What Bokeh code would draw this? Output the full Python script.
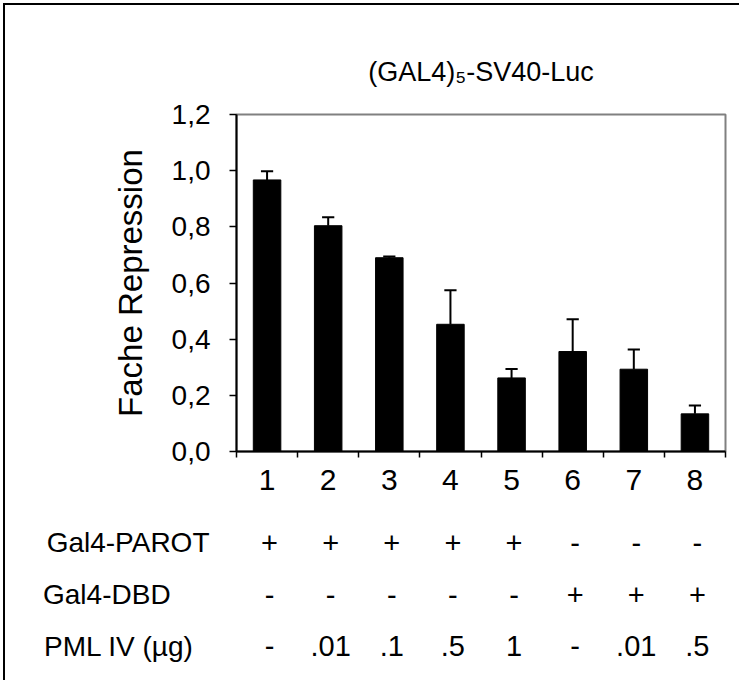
from bokeh.plotting import figure
from bokeh.models import (Range1d, FixedTicker, CustomJSTickFormatter, Title,
                          ColumnDataSource, Div, Spacer)
from bokeh.layouts import column, row
from bokeh.embed import file_html
from bokeh.resources import INLINE
from bokeh.core.properties import value

# ---------------- data ----------------
lanes = [1, 2, 3, 4, 5, 6, 7, 8]
repression = [0.967, 0.804, 0.690, 0.453, 0.262, 0.356, 0.293, 0.134]
error = [0.031, 0.030, 0.004, 0.121, 0.032, 0.115, 0.070, 0.030]
y_ticks = [0.0, 0.2, 0.4, 0.6, 0.8, 1.0, 1.2]
lane_boundaries = [0.5, 1.5, 2.5, 3.5, 4.5, 5.5, 6.5, 7.5, 8.5]

title_text = "(GAL4)\u2085-SV40-Luc"
y_label = "Fache Repression"

row_names = ["Gal4-PAROT", "Gal4-DBD", "PML IV (\u00b5g)"]
row_index = [0, 1, 2]
gal4_parot = ["+", "+", "+", "+", "+", "-", "-", "-"]
gal4_dbd = ["-", "-", "-", "-", "-", "+", "+", "+"]
pml_iv = ["-", ".01", ".1", ".5", "1", "-", ".01", ".5"]

FONT = "Liberation Sans"
FW, FH_TOP, FH_TAB = 734, 517, 158
BL, BR = 231, 14

# ---------------- chart ----------------
x_range = Range1d(0.5, 8.5)
p = figure(width=FW, height=FH_TOP, x_range=x_range, y_range=Range1d(0, 1.2),
           output_backend="svg", toolbar_location=None,
           min_border_left=BL, min_border_right=BR, min_border_top=109, min_border_bottom=71)
p.background_fill_color = "white"
p.border_fill_color = "white"
p.grid.visible = False
p.outline_line_color = "#808080"
p.outline_line_width = 2

err_top = [r + e for r, e in zip(repression, error)]
cap_half = 0.1
src = ColumnDataSource(dict(
    x=lanes, top=repression, etop=err_top,
    cx0=[x - cap_half for x in lanes], cx1=[x + cap_half for x in lanes]))

p.vbar(x="x", top="top", width=0.45, bottom=0, source=src,
       fill_color="black", line_color="black")
p.segment(x0="x", y0="top", x1="x", y1="etop", source=src, line_color="black", line_width=2)
p.segment(x0="cx0", y0="etop", x1="cx1", y1="etop", source=src, line_color="black", line_width=2)

xa = p.xaxis[0]
xa.ticker = FixedTicker(ticks=lanes, minor_ticks=lane_boundaries)
xa.major_tick_out = 0
xa.major_tick_in = 0
xa.minor_tick_out = 6
xa.minor_tick_in = 0
xa.minor_tick_line_width = 1.5
xa.minor_tick_line_color = "black"
xa.axis_line_width = 2
xa.axis_line_color = "black"
xa.major_label_text_font = FONT
xa.major_label_text_font_size = "30px"
xa.major_label_text_color = "black"
xa.major_label_standoff = 12

ya = p.yaxis[0]
ya.ticker = FixedTicker(ticks=y_ticks)
ya.formatter = CustomJSTickFormatter(code="return tick.toFixed(1).replace('.', ',');")
ya.major_tick_out = 7
ya.major_tick_in = 0
ya.minor_tick_out = 0
ya.minor_tick_in = 0
ya.major_tick_line_width = 1.5
ya.axis_line_width = 2
ya.axis_line_color = "black"
ya.major_label_text_font = FONT
ya.major_label_text_font_size = "28px"
ya.major_label_text_color = "black"
ya.major_label_text_baseline = "top"
ya.major_label_standoff = 19
ya.axis_label = y_label
ya.axis_label_text_font = FONT
ya.axis_label_text_font_size = "33px"
ya.axis_label_text_font_style = "normal"
ya.axis_label_text_color = "black"
ya.axis_label_standoff = 20

p.title = Title(text=title_text, align="center", text_font=FONT, text_font_size="27px",
                text_font_style="normal", text_color="black", standoff=55, offset=-20)

# ---------------- condition table ----------------
t = figure(width=FW, height=FH_TAB, x_range=x_range, y_range=Range1d(2.654, -0.385),
           output_backend="svg", toolbar_location=None,
           min_border_left=BL, min_border_right=BR, min_border_top=0, min_border_bottom=0)
t.xaxis.visible = False
t.grid.visible = False
t.outline_line_color = None
t.background_fill_color = "white"
t.border_fill_color = "white"

# row names as left-axis labels (padded with no-break spaces to read left-aligned)
pad = {0: 0, 1: 5, 2: 2}
ta = t.yaxis[0]
ta.ticker = FixedTicker(ticks=row_index)
ta.major_label_overrides = {i: n + "\u00a0" * pad[i] for i, n in zip(row_index, row_names)}
ta.axis_line_color = None
ta.major_tick_line_color = None
ta.minor_tick_line_color = None
ta.major_tick_out = 0
ta.major_tick_in = 0
ta.minor_tick_out = 0
ta.minor_tick_in = 0
ta.major_label_standoff = 27
ta.major_label_text_font = FONT
ta.major_label_text_font_size = "28px"
ta.major_label_text_color = "black"

cell_x, cell_y, cell_txt = [], [], []
for r, vals in zip(row_index, [gal4_parot, gal4_dbd, pml_iv]):
    for lane, s in zip(lanes, vals):
        cell_x.append(lane + 0.04)
        cell_y.append(r)
        cell_txt.append(s)
t.text(x=cell_x, y=cell_y, text=cell_txt, text_align="center", text_baseline="middle",
       text_font=value(FONT), text_font_size="29px", text_color="black")

# ---------------- outer frame lines ----------------
top_line = Div(text="", width=FW + 2, height=2, margin=0,
               styles={"background-color": "black"})
left_line = Div(text="", width=2, height=FH_TOP + FH_TAB, margin=0,
                styles={"background-color": "black"})

layout = column(
    Spacer(height=3, width=FW + 5, margin=0),
    row(Spacer(width=3, height=FH_TOP + FH_TAB + 2, margin=0),
        column(top_line, row(left_line, column(p, t, spacing=0), spacing=0), spacing=0),
        spacing=0),
    spacing=0)

open("out.html", "w").write(file_html(layout, INLINE))
